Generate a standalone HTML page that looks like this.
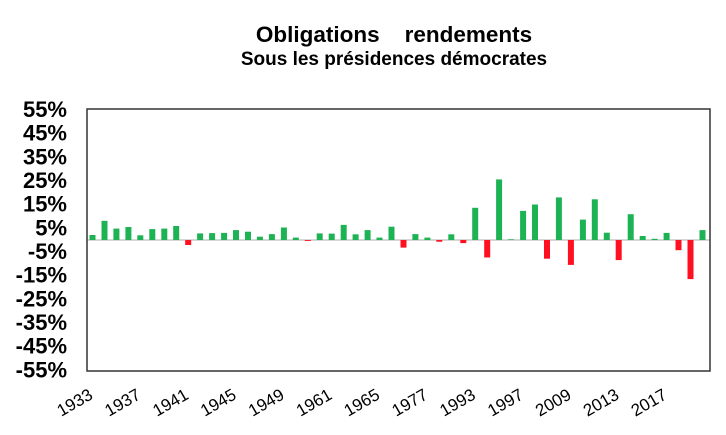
<!DOCTYPE html>
<html><head><meta charset="utf-8"><style>
body{margin:0;background:#fff;}
svg{display:block;font-family:"Liberation Sans",Arial,sans-serif;}
</style></head><body>
<svg width="726" height="435" viewBox="0 0 726 435" xmlns="http://www.w3.org/2000/svg">
<text x="394" y="42" font-size="22.5" font-weight="bold" text-anchor="middle" xml:space="preserve">Obligations    rendements</text>
<text x="394" y="65" font-size="19" font-weight="bold" text-anchor="middle">Sous les présidences démocrates</text>
<g font-size="22" font-weight="bold" text-anchor="end" id="yl"></g>
<line x1="87" y1="240" x2="710" y2="240" stroke="#c8c8c8" stroke-width="1.5"/>
<g id="bars"></g>
<rect x="87" y="109" width="623" height="262" fill="none" stroke="#333" stroke-width="1.5"/>
<g id="xl" font-size="17"></g>
<script>
var ns="http://www.w3.org/2000/svg";
var yl=document.getElementById("yl");
for(var i=0;i<12;i++){var t=document.createElementNS(ns,"text");t.setAttribute("x","67");t.setAttribute("y",(117+23.67*i).toFixed(1));t.textContent=(55-10*i)+"%";yl.appendChild(t);}
var v=[2.1,8.1,4.8,5.5,2.0,4.6,4.8,5.9,-2.1,2.8,2.9,3.0,4.2,3.5,1.4,2.5,5.3,1.0,-0.4,2.8,2.7,6.4,2.4,4.2,1.0,5.6,-3.2,2.5,1.0,-0.7,2.4,-1.3,13.6,-7.4,25.6,0.3,12.3,15.0,-7.9,18.0,-10.5,8.6,17.2,3.1,-8.5,10.9,1.7,0.5,3.0,-4.3,-16.5,4.2];
var g=document.getElementById("bars");
var s=2.367;
v.forEach(function(d,i){var r=document.createElementNS(ns,"rect");var x=89.5+11.96*i;var h=Math.abs(d)*s;r.setAttribute("x",x.toFixed(1));r.setAttribute("width","6");r.setAttribute("y",(d>=0?240-h:240).toFixed(1));r.setAttribute("height",h.toFixed(1));r.setAttribute("fill",d>=0?"#1db354":"#ff1020");g.appendChild(r);});
var L=["1933","1937","1941","1945","1949","1961","1965","1977","1993","1997","2009","2013","2017"];
var xl=document.getElementById("xl");
L.forEach(function(l,i){var t=document.createElementNS(ns,"text");var x=94+47.84*i;t.setAttribute("text-anchor","end");t.setAttribute("transform","translate("+x.toFixed(1)+",398) rotate(-30)");t.textContent=l;xl.appendChild(t);});
</script>
</svg>
</body></html>
